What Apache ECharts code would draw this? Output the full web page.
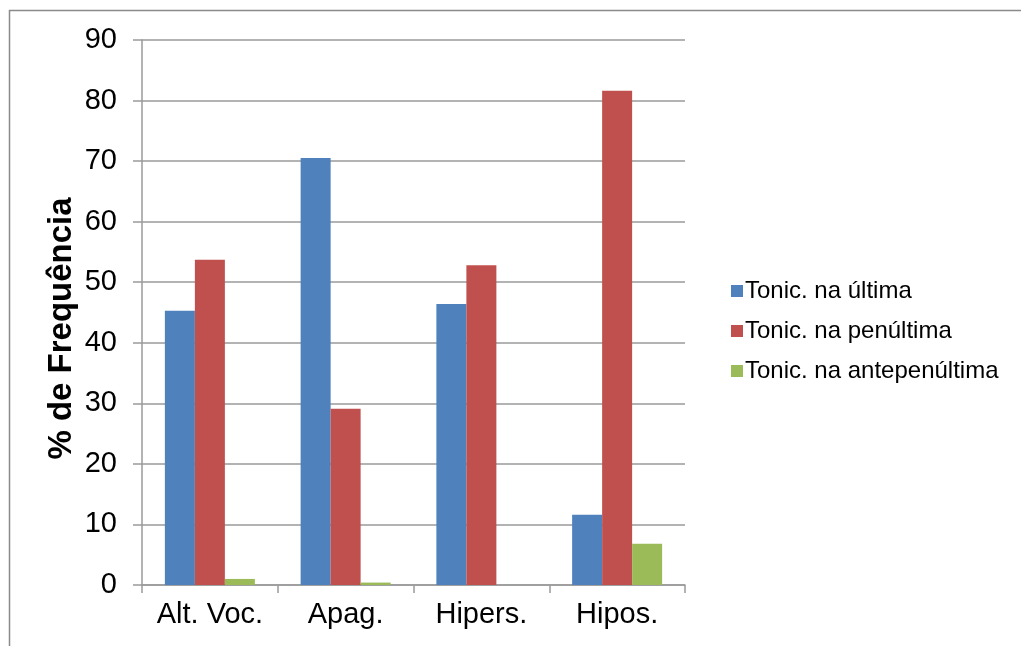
<!DOCTYPE html>
<html>
<head>
<meta charset="utf-8">
<script src="https://cdn.jsdelivr.net/npm/echarts@6/dist/echarts.min.js"></script>
<style>
  html, body { margin: 0; padding: 0; background: #fff; }
  #chart { width: 1021px; height: 646px; }
</style>
</head>
<body>
<div id="chart"></div>
<script>
// Tonic syllable position by process (% frequency)
const categories = ['Alt. Voc.', 'Apag.', 'Hipers.', 'Hipos.'];
const seriesNames = ['Tonic. na última', 'Tonic. na penúltima', 'Tonic. na antepenúltima'];
const ultima = [45.3, 70.5, 46.4, 11.6];
const penultima = [53.7, 29.1, 52.8, 81.6];
const antepenultima = [1.0, 0.4, 0, 6.8];
const yTicks = { min: 0, max: 90, interval: 10 };
const colors = ['#4f81bd', '#c0504d', '#9bbb59'];

const font = 'Liberation Sans, Arial, sans-serif';
const gridColor = '#9a9a9a';

const chart = echarts.init(document.getElementById('chart'), null, { renderer: 'canvas' });

const values = [ultima, penultima, antepenultima];

chart.setOption({
  animation: false,
  textStyle: { fontFamily: font, color: '#000' },
  graphic: [{
    type: 'rect',
    shape: { x: 9.5, y: 10.5, width: 1200, height: 800 },
    style: { fill: null, stroke: '#8a8a8a', lineWidth: 1.5 },
    silent: true
  }],
  grid: { left: 142, right: 336, top: 40, bottom: 61, containLabel: false },
  legend: {
    orient: 'vertical',
    left: 726,
    top: 274,
    itemWidth: 12,
    itemHeight: 12,
    itemGap: 16,
    icon: 'rect',
    data: seriesNames,
    textStyle: { fontFamily: font, fontSize: 24, lineHeight: 24, color: '#000', padding: [0, 0, 0, -3] }
  },
  xAxis: {
    type: 'category',
    data: categories,
    axisLine: { lineStyle: { color: gridColor, width: 1.5 } },
    axisTick: { show: true, interval: 0, length: 8, lineStyle: { color: gridColor, width: 1.5 } },
    axisLabel: { fontFamily: font, fontSize: 29, color: '#000', margin: 15, interval: 0 },
    splitLine: { show: false }
  },
  yAxis: {
    type: 'value',
    min: yTicks.min,
    max: yTicks.max,
    interval: yTicks.interval,
    name: '% de Frequência',
    nameLocation: 'middle',
    nameGap: 64,
    nameMoveOverlap: false,
    nameTextStyle: { fontFamily: font, fontSize: 33, fontWeight: 'bold', color: '#000', padding: [0, 32, 0, 0] },
    axisLine: { show: true, lineStyle: { color: gridColor, width: 1.5 } },
    axisTick: { show: true, length: 9, lineStyle: { color: gridColor, width: 1.5 } },
    axisLabel: { fontFamily: font, fontSize: 29, color: '#000', margin: 25 },
    splitLine: { show: true, lineStyle: { color: gridColor, width: 1.5 } }
  },
  series: seriesNames.map((name, i) => ({
    name: name,
    type: 'bar',
    data: values[i],
    barWidth: 30,
    barGap: '0%',
    itemStyle: { color: colors[i] }
  }))
});
</script>
</body>
</html>
